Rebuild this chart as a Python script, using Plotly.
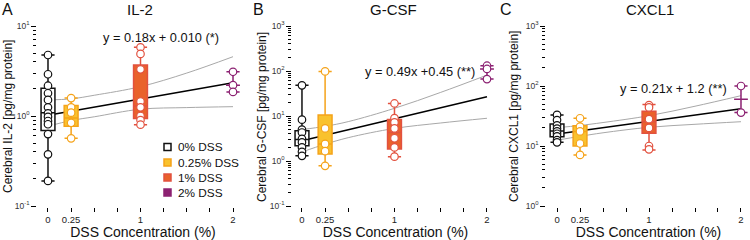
import plotly.graph_objects as go

# ---------------- data ----------------
groups = ["0% DSS", "0.25% DSS", "1% DSS", "2% DSS"]
dss = [0, 0.25, 1, 2]
line_colors = ["#111111", "#F5A31A", "#E2513F", "#8C2172"]
fill_colors = ["#FFFFFF", "#F9C22E", "#E9622B", "#8C2172"]

# IL-2
il2_points = [
    [4.76, 2.91, 2.17, 1.79, 1.51, 1.25, 1.07, 0.98, 0.88, 0.81, 0.63, 0.375, 0.19],
    [1.58, 1.25, 1.09, 0.84, 0.565],
    [5.8, 4.9, 3.3, 1.45, 1.25, 1.0, 0.9, 0.8],
    [3.1, 2.2, 1.85],
]
il2_q1 = [0.69, 0.77, 0.94, 2.2]
il2_med = [1.09, 0.95, 1.29, 2.2]
il2_q3 = [2.03, 1.31, 3.69, 2.2]
il2_lo = [0.19, 0.565, 0.8, 1.85]
il2_hi = [4.76, 1.58, 5.8, 3.1]
il2_fit = [1.02, 2.34]
il2_upper = [1.51, 1.55, 1.7, 2.12, 3.0, 4.56]
il2_lower = [0.77, 0.89, 0.98, 1.19, 1.24, 1.27]

# G-CSF
gcsf_points = [
    [48, 8.3, 5.0, 4.3, 3.1, 2.6, 2.0, 1.6, 1.3],
    [98, 5.3, 2.4, 1.65, 0.78],
    [19, 9.0, 7.2, 5.3, 3.2, 2.0, 1.25],
    [131, 111, 66],
]
gcsf_q1 = [2.19, 1.43, 1.85, 111]
gcsf_med = [3.0, 2.4, 4.3, 111]
gcsf_q3 = [4.7, 10.5, 8.4, 111]
gcsf_lo = [1.3, 0.78, 1.25, 66]
gcsf_hi = [48, 98, 19, 131]
gcsf_fit = [2.82, 26.9]
gcsf_upper = [5.0, 5.9, 7.5, 14.8, 33.5, 81]
gcsf_lower = [1.59, 2.36, 3.3, 5.3, 7.0, 8.9]

# CXCL1
cxcl1_points = [
    [33, 27, 22, 19.5, 17.5, 16, 14.5, 12.5, 11.5],
    [29, 21, 17.5, 11, 7.1],
    [48, 44, 28, 20, 10, 8.8],
    [100, 36],
]
cxcl1_q1 = [14.3, 10.0, 16.3, 60]
cxcl1_med = [17.8, 17.5, 25.4, 60]
cxcl1_q3 = [23.3, 21.8, 38, 60]
cxcl1_lo = [11.5, 7.1, 8.6, 36]
cxcl1_hi = [33, 29, 49, 100]
cxcl1_fit = [15.8, 41.7]
cxcl1_upper = [20.2, 22.0, 24.6, 32.0, 46.0, 69.0]
cxcl1_lower = [12.5, 14.5, 16.6, 20.5, 23.0, 25.4]

fit_x = [0, 2]
band_x = [0, 0.25, 0.5, 1, 1.5, 2]

titles = ["IL-2", "G-CSF", "CXCL1"]
letters = ["A", "B", "C"]
ytitles = ["Cerebral IL-2 [pg/mg protein]", "Cerebral G-CSF [pg/mg protein]",
           "Cerebral CXCL1 [pg/mg protein]"]
equations = ["y = 0.18x + 0.010 (*)", "y = 0.49x +0.45 (**)", "y = 0.21x + 1.2 (**)"]
x_ticks = [0, 0.25, 1, 2]
x_ticktext = ["0", "0.25", "1", "2"]
x_minor = [0.5, 0.75, 1.25, 1.5, 1.75]

# ---------------- layout helpers ----------------
W, H = 750, 240
FONT = "Liberation Sans, Arial, sans-serif"

def px(x):
    return x / W

def py(y):
    return 1 - y / H

panels = [
    dict(pts=il2_points, q1=il2_q1, med=il2_med, q3=il2_q3, lo=il2_lo, hi=il2_hi,
         fit=il2_fit, up=il2_upper, low=il2_lower, yexp=(-1, 1),
         xdom=(38, 248), xrng=(-0.108, 2.162), eq=(161, 37)),
    dict(pts=gcsf_points, q1=gcsf_q1, med=gcsf_med, q3=gcsf_q3, lo=gcsf_lo, hi=gcsf_hi,
         fit=gcsf_fit, up=gcsf_upper, low=gcsf_lower, yexp=(-1, 3),
         xdom=(293, 498), xrng=(-0.097, 2.119), eq=(420, 71)),
    dict(pts=cxcl1_points, q1=cxcl1_q1, med=cxcl1_med, q3=cxcl1_q3, lo=cxcl1_lo, hi=cxcl1_hi,
         fit=cxcl1_fit, up=cxcl1_upper, low=cxcl1_lower, yexp=(0, 3),
         xdom=(547, 750), xrng=(-0.109, 2.098), eq=(673, 88)),
]
title_x = [140, 393, 650]
letter_x = [7, 258, 506]
ytitle_x = [8, 262, 514]

fig = go.Figure()
layout = dict(
    width=W, height=H, margin=dict(l=0, r=0, t=0, b=0),
    paper_bgcolor="white", plot_bgcolor="white", showlegend=False,
    font=dict(family=FONT, color="#111111"),
)
annotations = []
shapes = []

for i, p in enumerate(panels):
    sfx = "" if i == 0 else str(i + 1)
    xa, ya = "x" + sfx, "y" + sfx
    # bands and fit
    for band in (p["up"], p["low"]):
        fig.add_trace(go.Scatter(x=band_x, y=band, mode="lines", xaxis=xa, yaxis=ya,
                                 line=dict(color="#A8A8A8", width=1, shape="spline"),
                                 hoverinfo="skip", zorder=0))
    fig.add_trace(go.Scatter(x=fit_x, y=p["fit"], mode="lines", xaxis=xa, yaxis=ya,
                             line=dict(color="#000000", width=1.5), hoverinfo="skip", zorder=0))
    # boxes
    for g in range(4):
        fig.add_trace(go.Box(
            x=[dss[g]], q1=[p["q1"][g]], median=[p["med"][g]], q3=[p["q3"][g]],
            lowerfence=[p["lo"][g]], upperfence=[p["hi"][g]],
            xaxis=xa, yaxis=ya, width=0.15, whiskerwidth=0.95,
            fillcolor=fill_colors[g], line=dict(color=line_colors[g], width=1.5),
            boxpoints=False, name=groups[g], zorder=1))
    # points
    for g in range(4):
        fig.add_trace(go.Scatter(
            x=[dss[g]] * len(p["pts"][g]), y=p["pts"][g], mode="markers",
            xaxis=xa, yaxis=ya, name=groups[g],
            marker=dict(symbol="circle", size=7.5, color="white",
                        line=dict(color=line_colors[g], width=1.2)), zorder=2))

    lo_e, hi_e = p["yexp"]
    major = [10 ** e for e in range(lo_e, hi_e + 1)]
    major_txt = ["10<sup>%d</sup>" % e for e in range(lo_e, hi_e + 1)]
    minor = [m * 10 ** e for e in range(lo_e, hi_e) for m in range(2, 10)]
    layout["xaxis" + sfx] = dict(
        domain=[px(p["xdom"][0]), px(p["xdom"][1])], range=list(p["xrng"]),
        anchor=ya, showline=True, linecolor="black", linewidth=1.5,
        showgrid=False, zeroline=False, ticks="outside", ticklen=4, tickwidth=1,
        tickcolor="black", tickvals=x_ticks, ticktext=x_ticktext,
        tickfont=dict(size=9.5, color="#222"),
        minor=dict(tickvals=x_minor, ticks="outside", ticklen=4, tickwidth=1, tickcolor="black"),
        title=dict(text="DSS Concentration (%)", font=dict(size=14), standoff=0),
        automargin=False, fixedrange=True)
    layout["yaxis" + sfx] = dict(
        domain=[py(206), py(26)], type="log", range=[lo_e, hi_e], anchor=xa,
        showline=True, linecolor="black", linewidth=1.5, showgrid=False, zeroline=False,
        ticks="outside", ticklen=5, tickwidth=1, tickcolor="black",
        tickvals=major, ticktext=major_txt, tickfont=dict(size=8.5, color="#333"),
        minor=dict(tickvals=minor, ticks="outside", ticklen=3, tickwidth=1, tickcolor="black"),
        automargin=False, fixedrange=True)

    annotations.append(dict(text=titles[i], x=px(title_x[i]), y=py(10), xref="paper", yref="paper",
                            showarrow=False, font=dict(size=15), xanchor="center", yanchor="middle"))
    annotations.append(dict(text=letters[i], x=px(letter_x[i]), y=py(10), xref="paper", yref="paper",
                            showarrow=False, font=dict(size=16), xanchor="center", yanchor="middle"))
    annotations.append(dict(text=ytitles[i], x=px(ytitle_x[i]), y=py(117), xref="paper", yref="paper",
                            showarrow=False, font=dict(size=12), textangle=-90,
                            xanchor="center", yanchor="middle"))
    annotations.append(dict(text=equations[i], x=px(p["eq"][0]), y=py(p["eq"][1]), xref="paper",
                            yref="paper", showarrow=False, font=dict(size=12.8),
                            xanchor="center", yanchor="middle"))

# legend (panel A)
leg_y = [147, 162.5, 177.5, 192.5]
for g in range(4):
    shapes.append(dict(type="rect", xref="paper", yref="paper",
                       x0=px(164), x1=px(171), y0=py(leg_y[g] + 3.5), y1=py(leg_y[g] - 3.5),
                       fillcolor=fill_colors[g], line=dict(color=line_colors[g], width=1.5)))
    annotations.append(dict(text=groups[g], x=px(176), y=py(leg_y[g]), xref="paper", yref="paper",
                            showarrow=False, font=dict(size=11.8), xanchor="left", yanchor="middle"))

layout["annotations"] = annotations
layout["shapes"] = shapes
fig.update_layout(**layout)
fig.write_html("out.html")
